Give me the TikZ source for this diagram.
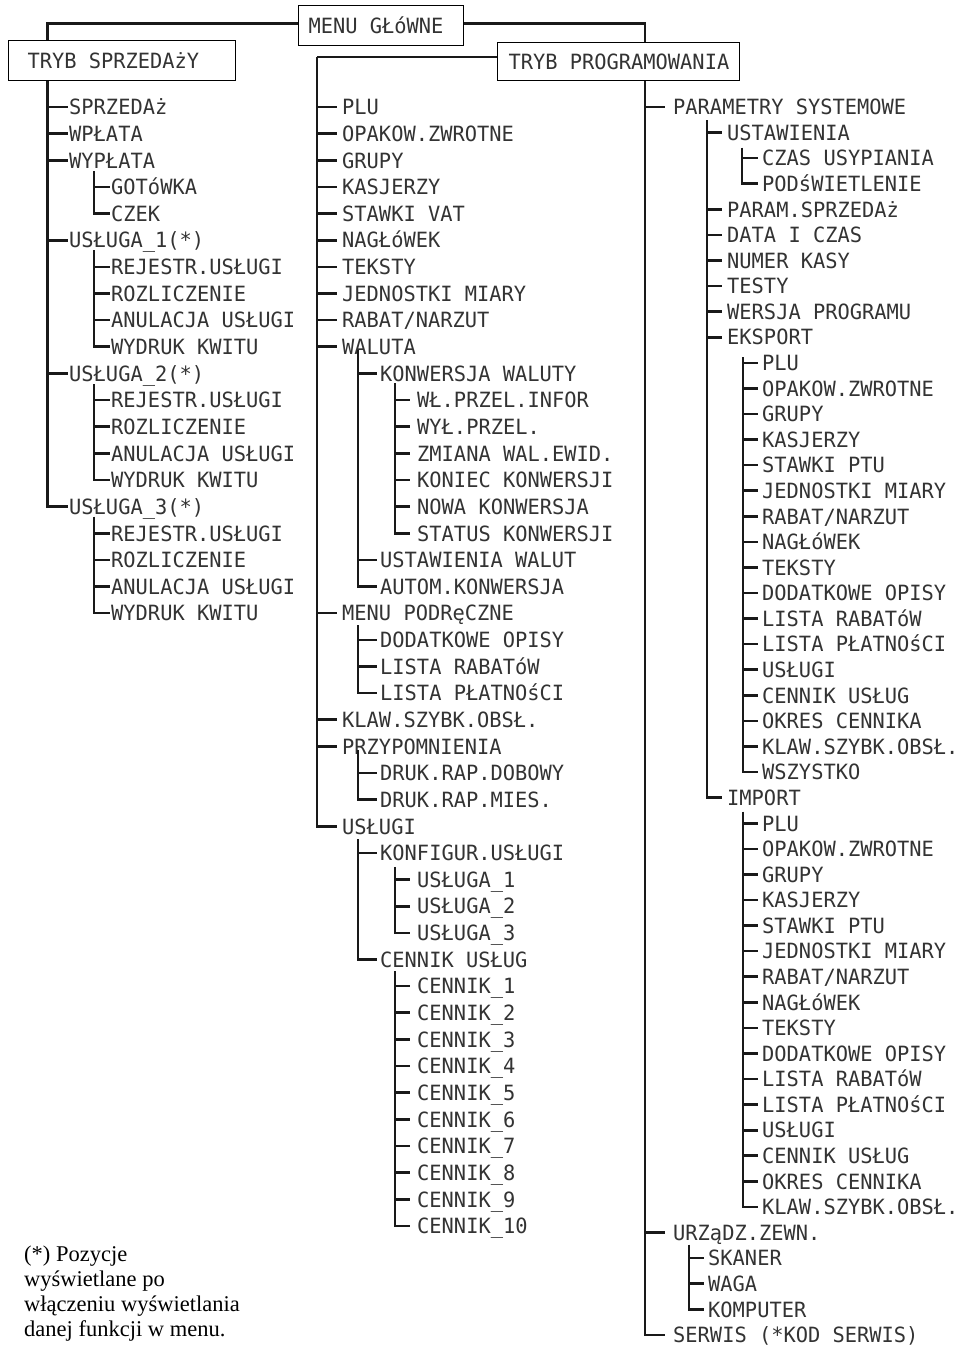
\documentclass[tikz,border=0pt]{standalone}
\usepackage{fontspec}
\newfontfamily\lcd{DejaVu Sans Mono}[FakeStretch=0.97]
\newfontfamily\serif{Liberation Serif}
\newcommand\ra[1]{107+#1*26.64}
\newcommand\rb[1]{107+#1*25.58}
\newcommand\lab[4]{\node[lbl] (#1) at (#2,{#3}) {#4};}
\newcommand\twigs[4]{%
  \foreach \c in {#3}{\draw[twig] (#1 |- \c.west) -- ([xshift=-#2pt]\c.west);}%
  \draw[twig] (#1) |- ([xshift=-#2pt]#4.west);}
\begin{document}
\begin{tikzpicture}[x=1pt,y=-1pt,
  lbl/.style={anchor=west,inner sep=0pt,text height=15.5pt,text depth=0pt,font=\lcd\fontsize{21}{21}\selectfont,text=black!80},
  twig/.style={line width=2.6pt,black!90},
  boxn/.style={draw=black,line width=1.1pt,anchor=north west,inner ysep=0pt,text height=15.5pt,text depth=0pt,font=\lcd\fontsize{21}{21}\selectfont,text=black!80}]
\useasboundingbox (0,0) rectangle (962,1345);
\fill[white] (0,0) rectangle (962,1345);
% boxes
\node[boxn,inner xsep=10pt,minimum height=40pt] (menu) at (298,5) {\makebox[145pt][l]{MENU GŁóWNE}};
\node[boxn,inner xsep=19pt,minimum height=40pt] (tsp) at (8,40) {\makebox[189pt][l]{TRYB SPRZEDAżY}};
\node[boxn,inner xsep=11pt,minimum height=38pt] (tpr) at (497,42) {\makebox[220pt][l]{TRYB PROGRAMOWANIA}};
% column 1
\lab{s0}{69}{\ra{0}}{SPRZEDAż}
\lab{s1}{69}{\ra{1}}{WPŁATA}
\lab{s2}{69}{\ra{2}}{WYPŁATA}
\lab{s2a}{111}{\ra{3}}{GOTóWKA}
\lab{s2b}{111}{\ra{4}}{CZEK}
\lab{s3}{69}{\ra{5}}{USŁUGA\_1(*)}
\lab{s3a}{111}{\ra{6}}{REJESTR.USŁUGI}
\lab{s3b}{111}{\ra{7}}{ROZLICZENIE}
\lab{s3c}{111}{\ra{8}}{ANULACJA USŁUGI}
\lab{s3d}{111}{\ra{9}}{WYDRUK KWITU}
\lab{s4}{69}{\ra{10}}{USŁUGA\_2(*)}
\lab{s4a}{111}{\ra{11}}{REJESTR.USŁUGI}
\lab{s4b}{111}{\ra{12}}{ROZLICZENIE}
\lab{s4c}{111}{\ra{13}}{ANULACJA USŁUGI}
\lab{s4d}{111}{\ra{14}}{WYDRUK KWITU}
\lab{s5}{69}{\ra{15}}{USŁUGA\_3(*)}
\lab{s5a}{111}{\ra{16}}{REJESTR.USŁUGI}
\lab{s5b}{111}{\ra{17}}{ROZLICZENIE}
\lab{s5c}{111}{\ra{18}}{ANULACJA USŁUGI}
\lab{s5d}{111}{\ra{19}}{WYDRUK KWITU}
% column 2
\lab{p0}{342}{\ra{0}}{PLU}
\lab{p1}{342}{\ra{1}}{OPAKOW.ZWROTNE}
\lab{p2}{342}{\ra{2}}{GRUPY}
\lab{p3}{342}{\ra{3}}{KASJERZY}
\lab{p4}{342}{\ra{4}}{STAWKI VAT}
\lab{p5}{342}{\ra{5}}{NAGŁóWEK}
\lab{p6}{342}{\ra{6}}{TEKSTY}
\lab{p7}{342}{\ra{7}}{JEDNOSTKI MIARY}
\lab{p8}{342}{\ra{8}}{RABAT/NARZUT}
\lab{p9}{342}{\ra{9}}{WALUTA}
\lab{w1}{380}{\ra{10}}{KONWERSJA WALUTY}
\lab{w1a}{417}{\ra{11}}{WŁ.PRZEL.INFOR}
\lab{w1b}{417}{\ra{12}}{WYŁ.PRZEL.}
\lab{w1c}{417}{\ra{13}}{ZMIANA WAL.EWID.}
\lab{w1d}{417}{\ra{14}}{KONIEC KONWERSJI}
\lab{w1e}{417}{\ra{15}}{NOWA KONWERSJA}
\lab{w1f}{417}{\ra{16}}{STATUS KONWERSJI}
\lab{w2}{380}{\ra{17}}{USTAWIENIA WALUT}
\lab{w3}{380}{\ra{18}}{AUTOM.KONWERSJA}
\lab{p10}{342}{\ra{19}}{MENU PODRęCZNE}
\lab{m1}{380}{\ra{20}}{DODATKOWE OPISY}
\lab{m2}{380}{\ra{21}}{LISTA RABATóW}
\lab{m3}{380}{\ra{22}}{LISTA PŁATNOśCI}
\lab{p11}{342}{\ra{23}}{KLAW.SZYBK.OBSŁ.}
\lab{p12}{342}{\ra{24}}{PRZYPOMNIENIA}
\lab{r1}{380}{\ra{25}}{DRUK.RAP.DOBOWY}
\lab{r2}{380}{\ra{26}}{DRUK.RAP.MIES.}
\lab{p13}{342}{\ra{27}}{USŁUGI}
\lab{u1}{380}{\ra{28}}{KONFIGUR.USŁUGI}
\lab{u1a}{417}{\ra{29}}{USŁUGA\_1}
\lab{u1b}{417}{\ra{30}}{USŁUGA\_2}
\lab{u1c}{417}{\ra{31}}{USŁUGA\_3}
\lab{u2}{380}{\ra{32}}{CENNIK USŁUG}
\foreach \i in {1,...,10}{\node[lbl] (c\i) at (417,{\ra{32}+\i*26.64}) {CENNIK\_\i};}
% column 3
\lab{q0}{673}{\rb{0}}{PARAMETRY SYSTEMOWE}
\lab{q0a}{727}{\rb{1}}{USTAWIENIA}
\lab{q0a1}{762}{\rb{2}}{CZAS USYPIANIA}
\lab{q0a2}{762}{\rb{3}}{PODśWIETLENIE}
\lab{q0b}{727}{\rb{4}}{PARAM.SPRZEDAż}
\lab{q0c}{727}{\rb{5}}{DATA I CZAS}
\lab{q0d}{727}{\rb{6}}{NUMER KASY}
\lab{q0e}{727}{\rb{7}}{TESTY}
\lab{q0f}{727}{\rb{8}}{WERSJA PROGRAMU}
\lab{q0g}{727}{\rb{9}}{EKSPORT}
\foreach \t [count=\i] in {PLU,OPAKOW.ZWROTNE,GRUPY,KASJERZY,STAWKI PTU,JEDNOSTKI MIARY,RABAT/NARZUT,NAGŁóWEK,TEKSTY,DODATKOWE OPISY,LISTA RABATóW,LISTA PŁATNOśCI,USŁUGI,CENNIK USŁUG,OKRES CENNIKA,KLAW.SZYBK.OBSŁ.,WSZYSTKO}
  {\node[lbl] (e\i) at (762,{\rb{9}+\i*25.58}) {\t};}
\lab{q0h}{727}{\rb{27}}{IMPORT}
\foreach \t [count=\i] in {PLU,OPAKOW.ZWROTNE,GRUPY,KASJERZY,STAWKI PTU,JEDNOSTKI MIARY,RABAT/NARZUT,NAGŁóWEK,TEKSTY,DODATKOWE OPISY,LISTA RABATóW,LISTA PŁATNOśCI,USŁUGI,CENNIK USŁUG,OKRES CENNIKA,KLAW.SZYBK.OBSŁ.}
  {\node[lbl] (i\i) at (762,{\rb{27}+\i*25.58}) {\t};}
\lab{q1}{673}{\rb{44}}{URZąDZ.ZEWN.}
\lab{q1a}{708}{\rb{45}}{SKANER}
\lab{q1b}{708}{\rb{46}}{WAGA}
\lab{q1c}{708}{\rb{47}}{KOMPUTER}
\lab{q2}{673}{\rb{48}}{SERWIS (*KOD SERWIS)}
% footnote
\node[anchor=north west,inner sep=0pt,align=left,font=\serif\fontsize{22.5}{25}\selectfont] (note) at (24,1246)
  {(*) Pozycje\\wyświetlane po\\włączeniu wyświetlania\\danej funkcji w menu.};
% top connectors
\coordinate (k1) at (47.5,0);
\coordinate (k3) at (645,0);
\coordinate (t2) at (317,57);
\draw[twig] ([yshift=2pt]menu.west) -| (k1 |- tsp.north);
\draw[twig] ([yshift=2pt]menu.east) -| (k3 |- tpr.north);
\draw[twig] (tpr.west |- t2) -- (t2);
\coordinate (t1) at (k1 |- tsp.south);
\coordinate (t3) at (k3 |- tpr.south);
% column 1 tree
\twigs{t1}{1}{s0,s1,s2,s3,s4}{s5}
\coordinate (ta) at (94,{\ra{2}+11});  \twigs{ta}{1}{s2a}{s2b}
\coordinate (tb) at (94,{\ra{5}+10});  \twigs{tb}{1}{s3a,s3b,s3c}{s3d}
\coordinate (tc) at (94,{\ra{10}+11}); \twigs{tc}{1}{s4a,s4b,s4c}{s4d}
\coordinate (td) at (94,{\ra{15}+10}); \twigs{td}{1}{s5a,s5b,s5c}{s5d}
% column 2 tree
\twigs{t2}{5}{p0,p1,p2,p3,p4,p5,p6,p7,p8,p9,p10,p11,p12}{p13}
\coordinate (tw) at (358,{\ra{9}+3});    \twigs{tw}{3}{w1,w2}{w3}
\coordinate (twk) at (395,{\ra{10}+10}); \twigs{twk}{7}{w1a,w1b,w1c,w1d,w1e}{w1f}
\coordinate (tm) at (358,{\ra{19}+12});  \twigs{tm}{3}{m1,m2}{m3}
\coordinate (tr) at (358,{\ra{24}+4});   \twigs{tr}{3}{r1}{r2}
\coordinate (tu) at (358,{\ra{27}+13});  \twigs{tu}{3}{u1}{u2}
\coordinate (tuk) at (395,{\ra{28}+14}); \twigs{tuk}{7}{u1a,u1b}{u1c}
\coordinate (tuc) at (395,{\ra{32}+12}); \twigs{tuc}{7}{c1,c2,c3,c4,c5,c6,c7,c8,c9}{c10}
% column 3 tree
\twigs{t3}{8}{q0,q1}{q2}
\coordinate (tq) at (707,{\rb{0}+13});   \twigs{tq}{5}{q0a,q0b,q0c,q0d,q0e,q0f,q0g}{q0h}
\coordinate (tqa) at (742,{\rb{1}+15});  \twigs{tqa}{4}{q0a1}{q0a2}
\coordinate (te) at (743,{\rb{9}+20});   \twigs{te}{4}{e1,e2,e3,e4,e5,e6,e7,e8,e9,e10,e11,e12,e13,e14,e15,e16}{e17}
\coordinate (ti) at (743,{\rb{27}+14});  \twigs{ti}{4}{i1,i2,i3,i4,i5,i6,i7,i8,i9,i10,i11,i12,i13,i14,i15}{i16}
\coordinate (tz) at (689,{\rb{44}+12});  \twigs{tz}{4}{q1a,q1b}{q1c}
\end{tikzpicture}
\end{document}
